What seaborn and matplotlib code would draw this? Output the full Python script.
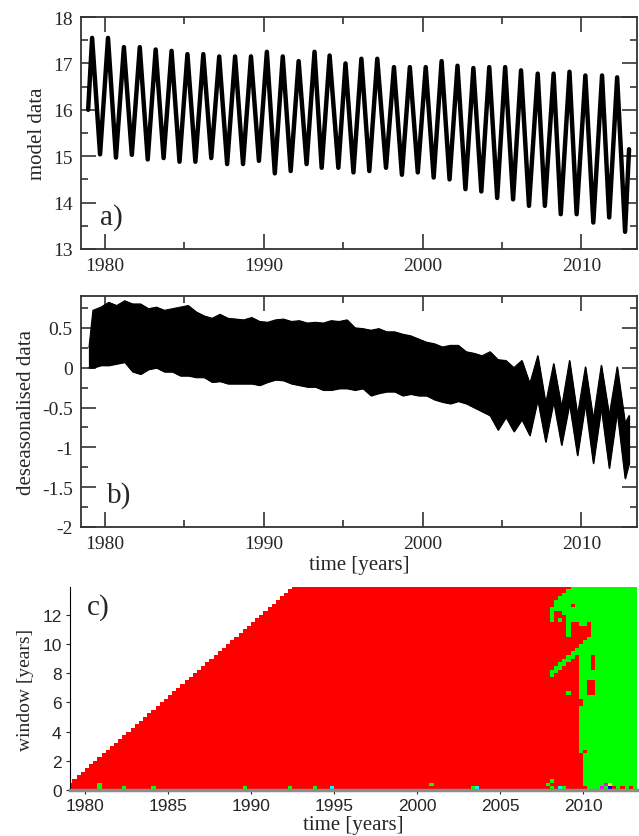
import numpy as np
import pandas as pd
import matplotlib
matplotlib.use("Agg")
import matplotlib.pyplot as plt
from matplotlib.colors import ListedColormap
from matplotlib.ticker import MultipleLocator, FuncFormatter
import seaborn as sns

# ---- panel a: seasonal maxima / minima of the model series ----
peak_time = [1979.2, 1980.2, 1981.2, 1982.2, 1983.2, 1984.2, 1985.2, 1986.2, 1987.2,
             1988.2, 1989.2, 1990.2, 1991.2, 1992.2, 1993.2, 1994.15, 1995.15, 1996.15,
             1997.15, 1998.2, 1999.2, 2000.2, 2001.2, 2002.2, 2003.2, 2004.2, 2005.2,
             2006.2, 2007.25, 2008.25, 2009.25, 2010.25, 2011.3, 2012.25]
peak_val = [17.55, 17.55, 17.35, 17.35, 17.3, 17.27, 17.2, 17.2, 17.15, 17.15, 17.15,
            17.25, 17.15, 17.05, 17.25, 17.17, 17.0, 17.1, 17.1, 16.92, 16.92, 16.92,
            17.05, 16.95, 16.9, 16.92, 16.92, 16.85, 16.78, 16.78, 16.82, 16.74, 16.74, 16.7]
trough_time = [1979.7, 1980.7, 1981.7, 1982.7, 1983.7, 1984.7, 1985.7, 1986.7, 1987.7,
               1988.7, 1989.7, 1990.7, 1991.7, 1992.7, 1993.65, 1994.7, 1995.65, 1996.65,
               1997.7, 1998.7, 1999.7, 2000.7, 2001.7, 2002.7, 2003.7, 2004.7, 2005.7,
               2006.7, 2007.7, 2008.7, 2009.7, 2010.75, 2011.75, 2012.75]
trough_val = [15.04, 14.97, 15.03, 14.93, 14.96, 14.88, 14.88, 14.96, 14.83, 14.83, 14.9,
              14.63, 14.68, 14.83, 14.75, 14.75, 14.65, 14.68, 14.75, 14.6, 14.65, 14.54,
              14.5, 14.29, 14.24, 14.1, 14.07, 13.93, 13.93, 13.75, 13.75, 13.57, 13.68, 13.37]
a_first = (1978.95, 16.0)
a_last = (2013.0, 15.15)

# ---- panel b: envelope of the deseasonalised series (half-year samples) ----
b_time = [1979.0] + [y + f for y in range(1979, 2013) for f in (0.25, 0.75)] + [2013.0]
b_upper = [0.25,
           0.72, 0.76, 0.82, 0.78, 0.84, 0.80, 0.80, 0.74, 0.76, 0.72,
           0.74, 0.76, 0.78, 0.70, 0.65, 0.62, 0.67, 0.62, 0.61, 0.60,
           0.63, 0.58, 0.57, 0.60, 0.61, 0.58, 0.59, 0.56, 0.57, 0.56,
           0.59, 0.58, 0.60, 0.50, 0.49, 0.47, 0.49, 0.45, 0.45, 0.42,
           0.40, 0.36, 0.32, 0.30, 0.26, 0.28, 0.28, 0.20, 0.18, 0.15,
           0.20, 0.10, 0.09, 0.00, 0.09, -0.20, 0.15, -0.45, 0.05, -0.50,
           0.09, -0.60, 0.01, -0.65, 0.03, -0.60, 0.01, -0.70,
           -0.60]
b_lower = [0.00,
           0.00, 0.03, 0.03, 0.05, 0.07, -0.05, -0.08, -0.02, 0.00, -0.05,
           -0.05, -0.10, -0.10, -0.12, -0.12, -0.18, -0.17, -0.20, -0.20, -0.20,
           -0.20, -0.22, -0.18, -0.15, -0.16, -0.20, -0.22, -0.24, -0.24, -0.28,
           -0.28, -0.26, -0.26, -0.28, -0.26, -0.35, -0.32, -0.30, -0.30, -0.35,
           -0.33, -0.35, -0.35, -0.40, -0.43, -0.45, -0.42, -0.45, -0.50, -0.55,
           -0.60, -0.78, -0.62, -0.80, -0.65, -0.85, -0.40, -0.93, -0.42, -0.97,
           -0.45, -1.10, -0.45, -1.20, -0.50, -1.26, -0.55, -1.39,
           -1.20]

# ---- panel c: classification map (window x time), 0.25 yr cells ----
cell = 0.25
first_window_end = 1978.75   # a window of length w exists from this time + w on
green_runs = {
    0.0: [(2010.25, 2013.25)],
    0.25: [(2007.75, 2008.0), (2010.0, 2013.25)],
    0.5: [(2008.0, 2008.25), (2010.0, 2013.25)],
    0.75: [(2010.0, 2013.25)], 1.0: [(2010.0, 2013.25)], 1.25: [(2010.0, 2013.25)],
    1.5: [(2010.0, 2013.25)], 1.75: [(2010.0, 2013.25)], 2.0: [(2010.0, 2013.25)],
    2.25: [(2010.0, 2013.25)],
    2.5: [(2009.75, 2010.0), (2010.25, 2013.25)],
    2.75: [(2009.75, 2013.25)], 3.0: [(2009.75, 2013.25)], 3.25: [(2009.75, 2013.25)],
    3.5: [(2009.75, 2013.25)], 3.75: [(2009.75, 2013.25)], 4.0: [(2009.75, 2013.25)],
    4.25: [(2009.75, 2013.25)], 4.5: [(2009.75, 2013.25)], 4.75: [(2009.75, 2013.25)],
    5.0: [(2009.75, 2013.25)], 5.25: [(2009.75, 2013.25)], 5.5: [(2009.75, 2013.25)],
    5.75: [(2010.0, 2013.25)], 6.0: [(2010.0, 2013.25)],
    6.25: [(2009.75, 2013.25)],
    6.5: [(2009.0, 2009.25), (2009.75, 2010.25), (2010.75, 2013.25)],
    6.75: [(2009.75, 2010.25), (2010.75, 2013.25)],
    7.0: [(2009.75, 2010.25), (2010.75, 2013.25)],
    7.25: [(2009.75, 2010.25), (2010.75, 2013.25)],
    7.5: [(2009.75, 2013.25)],
    7.75: [(2008.0, 2008.25), (2009.75, 2013.25)],
    8.0: [(2008.0, 2008.5), (2009.75, 2013.25)],
    8.25: [(2008.25, 2008.75), (2009.75, 2010.5), (2010.75, 2013.25)],
    8.5: [(2008.5, 2009.0), (2009.75, 2010.5), (2010.75, 2013.25)],
    8.75: [(2008.75, 2009.25), (2009.75, 2010.5), (2010.75, 2013.25)],
    9.0: [(2009.0, 2009.5), (2009.75, 2010.5), (2010.75, 2013.25)],
    9.25: [(2009.25, 2013.25)],
    9.5: [(2009.5, 2013.25)],
    9.75: [(2009.75, 2013.25)],
    10.0: [(2010.0, 2013.25)],
    10.25: [(2010.25, 2013.25)],
    10.5: [(2009.0, 2009.25), (2010.5, 2013.25)],
    10.75: [(2009.0, 2009.25), (2010.5, 2013.25)],
    11.0: [(2009.0, 2009.25), (2010.5, 2013.25)],
    11.25: [(2009.0, 2009.25), (2009.75, 2010.25), (2010.5, 2013.25)],
    11.5: [(2008.0, 2008.25), (2008.5, 2008.75), (2009.0, 2013.25)],
    11.75: [(2008.0, 2008.25), (2009.0, 2013.25)],
    12.0: [(2008.0, 2008.25), (2008.75, 2013.25)],
    12.25: [(2008.0, 2013.25)],
    12.5: [(2008.25, 2009.25), (2009.5, 2013.25)],
    12.75: [(2008.25, 2013.25)],
    13.0: [(2008.5, 2013.25)],
    13.25: [(2008.75, 2013.25)],
    13.5: [(2009.0, 2013.25)],
    13.75: [(2009.25, 2013.25)],
}
# single cells: (time, window, class)
dots = [(1980.75, 0.0, 2), (1980.75, 0.25, 2), (1982.25, 0.0, 2), (1984.0, 0.0, 2),
        (1989.5, 0.0, 2), (1992.25, 0.0, 2), (1993.75, 0.0, 2), (1994.75, 0.0, 3),
        (2000.75, 0.25, 2), (2003.25, 0.0, 2), (2003.5, 0.0, 3), (2008.0, 0.0, 2),
        (2008.5, 0.0, 3), (2008.75, 0.0, 2), (2011.0, 0.0, 4), (2011.25, 0.25, 4),
        (2011.5, 0.25, 5), (2011.5, 0.0, 6), (2011.75, 0.0, 1), (2012.25, 0.0, 1),
        (2012.75, 0.0, 1)]
class_colors = ['#ff0000', '#00ff00', '#00ffff', '#ff00ff', '#ffff00', '#0000ff']

# ---------------------------------------------------------------
sns.set_style("ticks")
plt.rcParams['font.family'] = ['Liberation Serif', 'DejaVu Serif']
plt.rcParams['axes.unicode_minus'] = False

W, H = 639, 837
fig = plt.figure(figsize=(W / 100, H / 100), dpi=100)
frame = '#333333'


def ts_axes(rect):
    ax = fig.add_axes(rect)
    ax.tick_params(which='both', direction='in', top=True, right=True,
                   width=1.2, color=frame, labelsize=14, pad=6)
    ax.tick_params(which='major', length=11)
    ax.tick_params(which='minor', length=5)
    for s in ax.spines.values():
        s.set_linewidth(1.3)
        s.set_color(frame)
    ax.xaxis.set_major_locator(MultipleLocator(10))
    ax.xaxis.set_minor_locator(MultipleLocator(5))
    ax.set_xlim(1978.5, 2013.5)
    return ax


fmt = FuncFormatter(lambda v, p: f"{v:g}")

# panel a
ax_a = ts_axes([81 / W, 1 - 250 / H, 556 / W, 232 / H])
da = pd.DataFrame({'t': [a_first[0]] + peak_time + trough_time + [a_last[0]],
                   'v': [a_first[1]] + peak_val + trough_val + [a_last[1]]}).sort_values('t')
sns.lineplot(data=da, x='t', y='v', ax=ax_a, color='black', lw=3.2,
             estimator=None, sort=False, solid_joinstyle='round')
ax_a.set_ylim(13, 18)
ax_a.yaxis.set_major_locator(MultipleLocator(1))
ax_a.yaxis.set_minor_locator(MultipleLocator(0.5))
ax_a.set_xlabel('')
ax_a.set_ylabel('model data', fontsize=15)
ax_a.text(0.035, 0.14, 'a)', transform=ax_a.transAxes, fontsize=21, va='center')

# panel b
ax_b = ts_axes([81 / W, 1 - 528 / H, 556 / W, 231 / H])
ax_b.fill_between(b_time, b_lower, b_upper, color='black', lw=0.8, edgecolor='black')
sns.lineplot(x=b_time, y=b_upper, ax=ax_b, color='black', lw=0.8, estimator=None)
sns.lineplot(x=b_time, y=b_lower, ax=ax_b, color='black', lw=0.8, estimator=None)
ax_b.set_ylim(-2, 0.9)
ax_b.yaxis.set_major_locator(MultipleLocator(0.5))
ax_b.yaxis.set_minor_locator(MultipleLocator(0.25))
ax_b.yaxis.set_major_formatter(fmt)
ax_b.set_xlabel('time [years]', fontsize=15, labelpad=2)
ax_b.set_ylabel('deseasonalised data', fontsize=15)
ax_b.text(0.047, 0.14, 'b)', transform=ax_b.transAxes, fontsize=21, va='center')

# panel c
t_edges = np.arange(1979.0, 2013.25 + 1e-9, cell)
w_edges = np.arange(0.0, 14.0 + 1e-9, cell)
tc = (t_edges[:-1] + t_edges[1:]) / 2
wc = (w_edges[:-1] + w_edges[1:]) / 2
valid = wc[:, None] <= tc[None, :] - first_window_end
grid = np.where(valid, 1, 0)
for w0, runs in green_runs.items():
    i = int(round(w0 / cell))
    for t0, t1 in runs:
        sel = (tc >= t0) & (tc < t1) & valid[i]
        grid[i, sel] = 2
for t0, w0, k in dots:
    i = int(round(w0 / cell))
    j = int(round((t0 - t_edges[0]) / cell))
    grid[i, j] = k

ax_c = fig.add_axes([70 / W, 1 - 791 / H, 567 / W, 203 / H])
ax_c.pcolormesh(t_edges, w_edges, np.ma.masked_equal(grid, 0),
                cmap=ListedColormap(class_colors), vmin=0.5, vmax=6.5)
ax_c.set_xlim(1979.1, 2013.25)
ax_c.set_ylim(0, 13.9)
ax_c.xaxis.set_major_locator(MultipleLocator(5))
ax_c.yaxis.set_major_locator(MultipleLocator(2))
sns.despine(ax=ax_c)
ax_c.spines['left'].set_linewidth(0.8)
ax_c.spines['left'].set_color('black')
ax_c.spines['bottom'].set_linewidth(2.5)
ax_c.spines['bottom'].set_color('#8c8c8c')
ax_c.tick_params(direction='out', length=3, width=0.8, pad=3)
for lab in ax_c.get_xticklabels() + ax_c.get_yticklabels():
    lab.set_family(['Liberation Sans', 'DejaVu Sans'])
    lab.set_fontsize(12.5)
ax_c.set_xlabel('time [years]', fontsize=15, labelpad=1)
ax_c.set_ylabel('window [years]', fontsize=14, labelpad=6)
ax_c.text(0.03, 0.905, 'c)', transform=ax_c.transAxes, fontsize=21, va='center')

fig.savefig('out.png', dpi=100)
